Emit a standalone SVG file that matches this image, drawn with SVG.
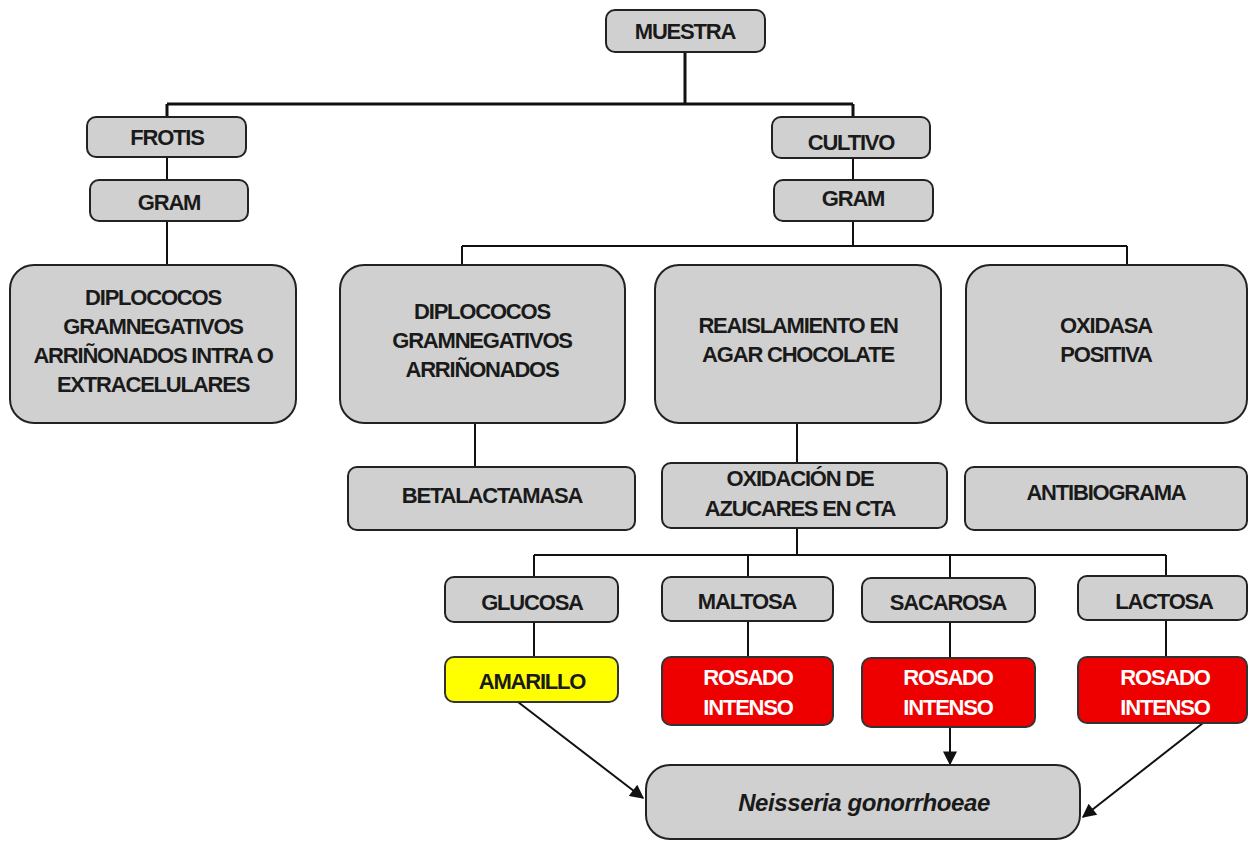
<svg xmlns="http://www.w3.org/2000/svg" width="1248" height="842" viewBox="0 0 1248 842">
<style>
.b{fill:#d0d0d0;stroke:#222;stroke-width:2}
.r{fill:#ee0000;stroke:#333;stroke-width:2}
.y{fill:#ffff00;stroke:#333;stroke-width:2}
.t{font-family:"Liberation Sans",Arial,sans-serif;font-weight:bold;font-size:22px;letter-spacing:-1.2px;text-anchor:middle;fill:#1a1a1a}
.w{fill:#ffffff}
.i{font-style:italic;font-size:24px;letter-spacing:-0.4px}
.c{fill:none;stroke:#111;stroke-width:2}
.c3{fill:none;stroke:#111;stroke-width:3}
</style>
<defs>
<marker id="ah" viewBox="0 0 10 10" refX="9" refY="5" markerWidth="16" markerHeight="14" orient="auto" markerUnits="userSpaceOnUse">
<path d="M0,0 L10,5 L0,10 z" fill="#111"/>
</marker>
</defs>
<rect width="1248" height="842" fill="#ffffff"/>
<g id="connectors">
<path class="c3" d="M685,52 V104 M167,104 H853 M167,104 V117 M853,104 V117"/>
<path class="c" d="M167,157 V180 M167,221 V265"/>
<path class="c" d="M853,158 V180 M853,221 V246 M462,246 H1127 M462,246 V265 M1127,246 V265"/>
<path class="c" d="M475,423 V467 M797,423 V463"/>
<path class="c" d="M797,528 V555 M534,555 H1166 M534,555 V577 M748,555 V577 M950,555 V578 M1166,555 V576"/>
<path class="c" d="M534,622 V657 M748,621 V657 M950,622 V658 M1166,620 V657"/>
<line class="c" x1="518" y1="702" x2="643" y2="798" marker-end="url(#ah)"/>
<line class="c" x1="950" y1="727" x2="950" y2="764" marker-end="url(#ah)"/>
<line class="c" x1="1203" y1="723" x2="1083" y2="817" marker-end="url(#ah)"/>
</g>
<g id="muestra"><rect class="b" x="606" y="10" width="159" height="42" rx="9"/><text class="t" x="685" y="39">MUESTRA</text></g>
<g id="frotis"><rect class="b" x="87" y="117" width="159" height="40" rx="9"/><text class="t" x="167" y="145">FROTIS</text></g>
<g id="gram1"><rect class="b" x="90" y="180" width="158" height="41" rx="9"/><text class="t" x="169" y="210">GRAM</text></g>
<g id="diplo1"><rect class="b" x="10" y="265" width="286" height="158" rx="24"/>
<text class="t" x="153" y="305">DIPLOCOCOS</text>
<text class="t" x="153" y="334">GRAMNEGATIVOS</text>
<text class="t" x="153" y="363">ARRIÑONADOS INTRA O</text>
<text class="t" x="153" y="392">EXTRACELULARES</text></g>
<g id="cultivo"><rect class="b" x="772" y="117" width="158" height="41" rx="9"/><text class="t" x="851" y="150">CULTIVO</text></g>
<g id="gram2"><rect class="b" x="774" y="180" width="159" height="41" rx="9"/><text class="t" x="853" y="206">GRAM</text></g>
<g id="diplo2"><rect class="b" x="340" y="265" width="285" height="158" rx="24"/>
<text class="t" x="482" y="319">DIPLOCOCOS</text>
<text class="t" x="482" y="348">GRAMNEGATIVOS</text>
<text class="t" x="482" y="377">ARRIÑONADOS</text></g>
<g id="reais"><rect class="b" x="655" y="265" width="286" height="158" rx="24"/>
<text class="t" x="798" y="333">REAISLAMIENTO EN</text>
<text class="t" x="798" y="362">AGAR CHOCOLATE</text></g>
<g id="oxidasa"><rect class="b" x="966" y="265" width="281" height="158" rx="24"/>
<text class="t" x="1106" y="333">OXIDASA</text>
<text class="t" x="1106" y="362">POSITIVA</text></g>
<g id="beta"><rect class="b" x="348" y="467" width="287" height="63" rx="9"/><text class="t" x="492" y="503">BETALACTAMASA</text></g>
<g id="oxid"><rect class="b" x="662" y="463" width="285" height="65" rx="9"/>
<text class="t" x="800" y="486">OXIDACIÓN DE</text>
<text class="t" x="800" y="516">AZUCARES EN CTA</text></g>
<g id="antibio"><rect class="b" x="965" y="467" width="282" height="63" rx="9"/><text class="t" x="1106" y="500">ANTIBIOGRAMA</text></g>
<g id="glucosa"><rect class="b" x="445" y="577" width="173" height="45" rx="9"/><text class="t" x="532" y="610">GLUCOSA</text></g>
<g id="maltosa"><rect class="b" x="662" y="577" width="171" height="44" rx="9"/><text class="t" x="747" y="609">MALTOSA</text></g>
<g id="sacarosa"><rect class="b" x="862" y="578" width="173" height="44" rx="9"/><text class="t" x="948" y="610">SACAROSA</text></g>
<g id="lactosa"><rect class="b" x="1078" y="576" width="169" height="44" rx="9"/><text class="t" x="1164" y="609">LACTOSA</text></g>
<g id="amarillo"><rect class="y" x="445" y="657" width="173" height="45" rx="9"/><text class="t" x="532" y="689">AMARILLO</text></g>
<g id="rosado1"><rect class="r" x="662" y="657" width="171" height="68" rx="9"/>
<text class="t w" x="748" y="685">ROSADO</text><text class="t w" x="748" y="715">INTENSO</text></g>
<g id="rosado2"><rect class="r" x="862" y="658" width="173" height="69" rx="9"/>
<text class="t w" x="948" y="685">ROSADO</text><text class="t w" x="948" y="715">INTENSO</text></g>
<g id="rosado3"><rect class="r" x="1078" y="657" width="169" height="66" rx="9"/>
<text class="t w" x="1165" y="685">ROSADO</text><text class="t w" x="1165" y="715">INTENSO</text></g>
<g id="neisseria"><rect class="b" x="646" y="765" width="434" height="74" rx="24"/>
<text class="t i" x="864" y="811">Neisseria gonorrhoeae</text></g>
</svg>
